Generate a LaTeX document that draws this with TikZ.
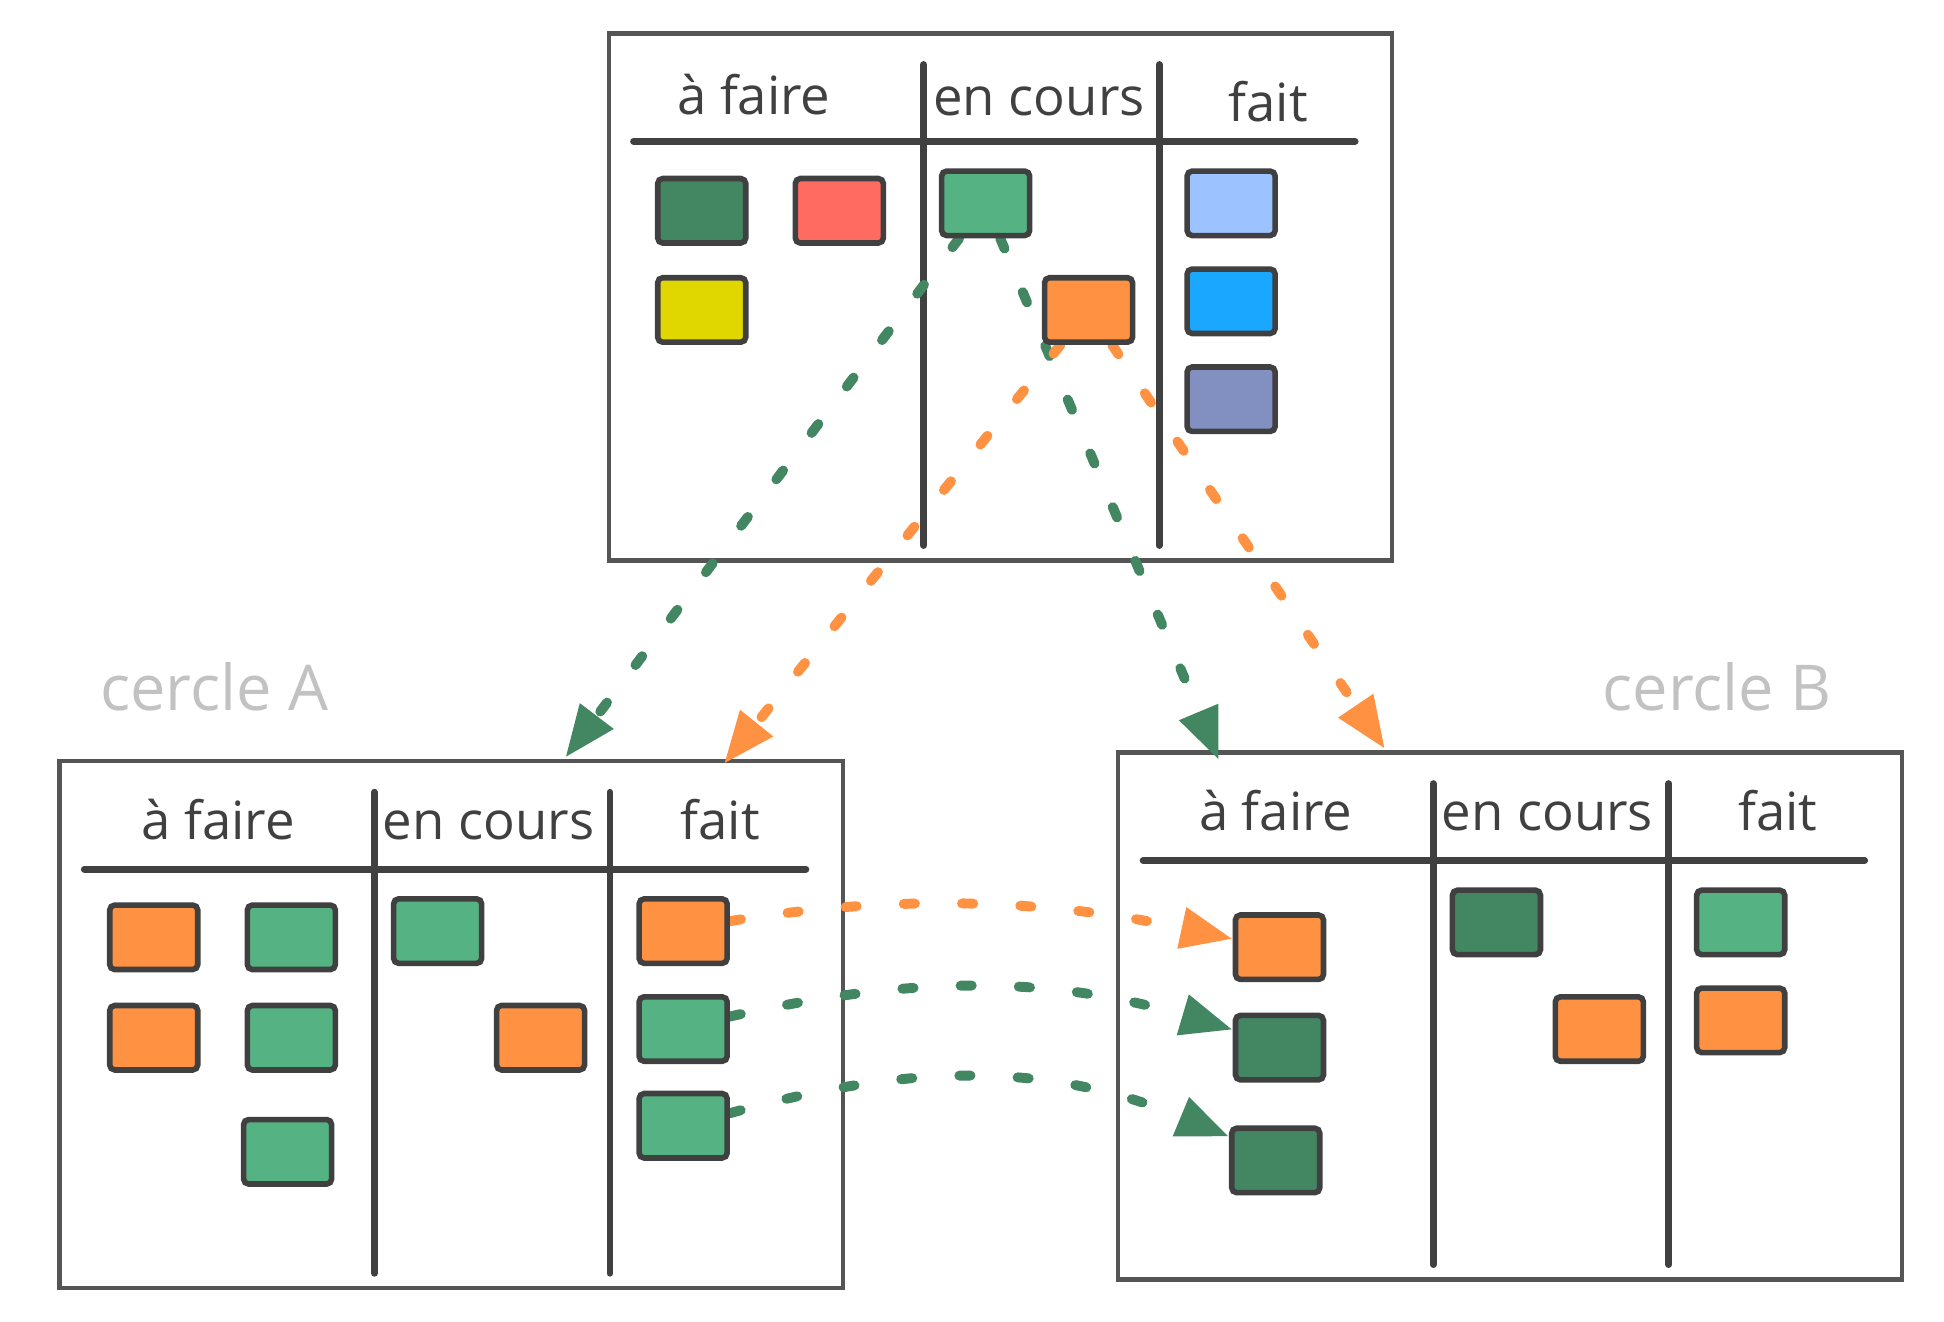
\documentclass[tikz,border=0pt]{standalone}
\usepackage{fontspec}
\setmainfont{Open Sans}
\usetikzlibrary{arrows.meta}

\definecolor{dgreen}{HTML}{428762}
\definecolor{mgreen}{HTML}{55B283}
\definecolor{korange}{HTML}{FF9142}
\definecolor{kred}{HTML}{FF6B60}
\definecolor{kyellow}{HTML}{E0D700}
\definecolor{lblue}{HTML}{9CC3FF}
\definecolor{sblue}{HTML}{1AA7FF}
\definecolor{slate}{HTML}{8290C1}
\definecolor{ink}{HTML}{404040}
\definecolor{boardgray}{HTML}{555555}
\definecolor{faint}{HTML}{C2C2C2}

\pgfdeclarelayer{front}
\pgfsetlayers{main,front}

\begin{document}
\begin{tikzpicture}[x=1pt,y=-1pt,
    card/.style={draw=ink, line width=4.5pt, rounded corners=4pt, minimum width=71pt, minimum height=52pt, inner sep=0pt},
    col/.style={text=ink, font=\fontsize{42.5}{50}\selectfont, anchor=base, inner sep=0pt},
    tag/.style={text=faint, font=\fontsize{51}{60}\selectfont, anchor=base, inner sep=0pt},
    rule/.style={ink, line width=5.5pt, line cap=round},
    link/.style={line width=8pt, line cap=round, dash pattern=on 9pt off 38pt, -{Triangle[length=42pt,width=32pt]}}]
\useasboundingbox (0,0) rectangle (1568,1066);

% the three boards
\foreach \bx/\by in {491/27, 48/614, 902/607}{
    \draw[boardgray, line width=3.5pt] (\bx,\by) rectangle ++(632,425);
    \draw[rule] (\bx+20,\by+87) -- ++(582,0);
    \draw[rule] (\bx+254,\by+25) -- ++(0,388);
    \draw[rule] (\bx+444,\by+25) -- ++(0,388);
}

\node[col] (t-todo) at (608,92) {à faire};
\node[col] (t-doing) at (838,93) {en cours};
\node[col] (t-done) at (1023,98) {fait};
\node[col] (a-todo) at (176,677) {à faire};
\node[col] (a-doing) at (394,677) {en cours};
\node[col] (a-done) at (581,677) {fait};
\node[col] (b-todo) at (1029,670) {à faire};
\node[col] (b-doing) at (1248,670) {en cours};
\node[col] (b-done) at (1434,670) {fait};

\node[tag] (cercleA) at (173,573) {cercle A};
\node[tag] (cercleB) at (1385,573) {cercle B};

% cards
\begin{pgfonlayer}{front}
    \node[card, fill=dgreen] (t1) at (566,170) {};
    \node[card, fill=kred] (t2) at (677,170) {};
    \node[card, fill=kyellow] (t3) at (566,250) {};
    \node[card, fill=mgreen] (tg) at (795,164) {};
    \node[card, fill=korange] (to) at (878,250) {};
    \node[card, fill=lblue] (t4) at (993,164) {};
    \node[card, fill=sblue] (t5) at (993,243) {};
    \node[card, fill=slate] (t6) at (993,322) {};

    \node[card, fill=korange] (a1) at (124,756) {};
    \node[card, fill=mgreen] (a2) at (235,756) {};
    \node[card, fill=korange] (a3) at (124,837) {};
    \node[card, fill=mgreen] (a4) at (235,837) {};
    \node[card, fill=mgreen] (a5) at (232,929) {};
    \node[card, fill=mgreen] (a6) at (353,751) {};
    \node[card, fill=korange] (a7) at (436,837) {};
    \node[card, fill=korange] (a8) at (551,751) {};
    \node[card, fill=mgreen] (a9) at (551,830) {};
    \node[card, fill=mgreen] (a10) at (551,908) {};

    \node[card, fill=korange] (b1) at (1032,764) {};
    \node[card, fill=dgreen] (b2) at (1032,845) {};
    \node[card, fill=dgreen] (b3) at (1029,936) {};
    \node[card, fill=dgreen] (b4) at (1207,744) {};
    \node[card, fill=korange] (b5) at (1290,830) {};
    \node[card, fill=mgreen] (b6) at (1404,744) {};
    \node[card, fill=korange] (b7) at (1404,823) {};
\end{pgfonlayer}

% where the arrows land
\coordinate (ga) at (456,611);
\coordinate (oa) at (584,616);
\coordinate (gb) at (983,613);
\coordinate (ob) at (1117,604);

\draw[link, dgreen] (tg) -- (ga);
\draw[link, dgreen] (tg) -- (gb);
\draw[link, korange] (to) -- (oa);
\draw[link, korange] (to) -- (ob);

\draw[link, korange] (a8.12) .. controls +(139,-23) and +(-143,-31) .. (b1.170);
\draw[link, dgreen] (a9.15) .. controls +(151,-34) and +(-145,-43) .. (b2.159);
\draw[link, dgreen] (a10.15) .. controls +(151,-42) and +(-142,-59) .. (b3.153);
\end{tikzpicture}
\end{document}
